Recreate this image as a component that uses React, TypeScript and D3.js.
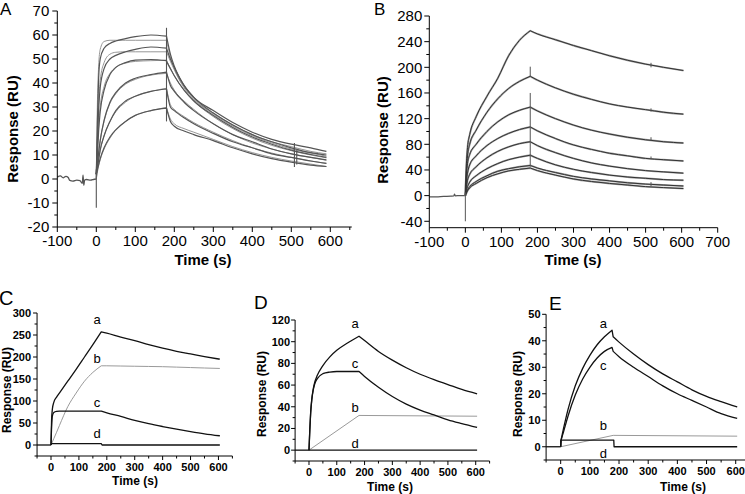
import React from "react";
import * as d3 from "d3";

const FONT = '"Liberation Sans", Arial, Helvetica, sans-serif';

// ---------------- Panel A data ----------------
const aTicksX = [-100, 0, 100, 200, 300, 400, 500, 600];
const aTicksY = [-20, -10, 0, 10, 20, 30, 40, 50, 60, 70];
const aBaseT = [-100, -92, -85, -78, -72, -68, -60, -50, -42, -36, -34, -32, -30, -25, -15, -5, 0];
const aBaseV = [0.8, 1.3, 0.5, 1.1, 0.6, -0.6, -0.9, -0.5, -0.7, -1.8, 1.6, -2.6, -0.4, -0.2, -0.5, -0.1, 0];
const aAssocT = [0, 3, 6, 10, 20, 35, 50, 75, 100, 140, 180];
const aDissT = [180, 190, 200, 225, 250, 300, 350, 400, 450, 500, 550, 590];
const aExpAssoc = [
  [2, 25, 42, 50, 54.5, 56.5, 57.5, 58.5, 59.3, 60, 59.5],
  [2, 16, 29, 38, 46, 50, 51.5, 53, 54, 55, 54.5],
  [2, 11, 20, 28, 37, 43.5, 46.5, 48.5, 49.5, 49.8, 49.3],
  [2, 6.5, 11, 16, 24.5, 32, 36, 40, 42, 43.5, 44.5],
  [2, 5, 8, 12, 18, 24, 28.5, 32.5, 34.5, 36.5, 37.5],
  [2, 4, 6, 8.5, 13, 17.5, 20.5, 24, 26.5, 28.5, 29.5],
];
const aFitAssoc = [
  [0, 33, 47, 54, 57.3, 57.8, 57.8, 57.8, 57.8, 57.8, 57.8],
  [0, 18, 32, 41, 48.5, 52, 52.8, 53, 53, 53, 53],
  [0, 12, 22, 30, 38.5, 44, 46.5, 48.3, 49, 49.3, 49.5],
  [0, 6, 11, 16, 24, 31.5, 35.5, 39.5, 41.5, 43.3, 44],
  [0, 4.5, 8, 12, 18, 24, 28, 32, 34.5, 36.5, 37.8],
  [0, 3, 5.5, 8, 12.5, 17, 20.5, 24, 26.5, 28.5, 29.8],
];
const aExpDiss = [
  [59.5, 52, 47, 39, 34, 28.5, 23.5, 19.5, 16.5, 14.5, 13, 11.5],
  [54.5, 50, 46.5, 39, 34, 27.5, 22.5, 18.5, 15.5, 13, 11, 10],
  [49, 46, 43, 37, 32.5, 26.5, 21.5, 17.5, 14.5, 12, 10.2, 9],
  [44.5, 39, 36.5, 32, 28.5, 23, 18.5, 15.5, 12.5, 10.5, 9, 8],
  [37.5, 30, 28.5, 25.5, 23, 19, 15.5, 13, 10.5, 9, 7.5, 6.5],
  [29.5, 24, 22, 20, 18.5, 16, 13, 10.5, 8.5, 7, 5.8, 5.2],
];
const aFitDiss = [
  [57.8, 51, 46, 38, 33, 27.5, 22.5, 18.5, 15.5, 13.5, 11.5, 10.5],
  [53, 49, 45.5, 38.5, 33.5, 27, 22, 18, 15, 12.5, 10.8, 9.5],
  [49.5, 46, 43, 37, 32.5, 26, 21, 17, 14, 11.8, 10, 8.8],
  [44, 40, 37, 32.5, 29, 23, 18.5, 15, 12.5, 10.5, 9, 7.8],
  [37.8, 31, 29, 26, 23.5, 19.5, 16, 13, 10.8, 9, 7.5, 6.5],
  [29.8, 25, 23, 21, 19.5, 16.5, 13.5, 11, 9, 7.5, 6.2, 5.2],
];
const aSpikeT = [0, 180, 508, 514];
const aSpikeLo = [-12, 24, 5, 6];
const aSpikeHi = [4, 63, 15, 12];

// ---------------- Panel B data ----------------
const bTicksX = [-100, 0, 100, 200, 300, 400, 500, 600, 700];
const bTicksY = [-40, 0, 40, 80, 120, 160, 200, 240, 280];
const bBaseT = [-100, -80, -60, -40, -32, -30, -28, -15, 0];
const bBaseV = [-2, -1.8, -1.2, -0.8, -0.5, 2.5, -0.3, 0, 0];
const bAssocT = [0, 3, 6, 12, 30, 60, 90, 120, 150, 180];
const bAssoc = [
  [0, 50, 75, 95, 123, 155, 183, 218, 242, 257],
  [0, 40, 62, 80, 102, 130, 151, 167, 178, 186],
  [0, 32, 50, 64, 80, 100, 115, 126, 133, 138],
  [0, 22, 35, 48, 62, 78, 89, 97, 103, 107],
  [0, 14, 24, 33, 45, 59, 69, 76, 81, 84],
  [0, 8, 14, 21, 31, 42, 50, 56, 60, 63],
  [0, 5, 9, 14, 22, 31, 38, 42, 45, 47],
  [0, 4, 7.5, 12, 19, 28, 34, 38.5, 41, 43],
];
const bDissT = [180, 200, 250, 300, 350, 400, 450, 500, 550, 605];
const bDiss = [
  [257, 252, 243, 234, 226, 218, 211, 205, 200, 195],
  [186, 180, 168, 158, 150, 143, 138, 134, 130, 127],
  [138, 132, 120, 110, 102, 96, 91, 87, 84, 82],
  [107, 101, 89, 79, 72, 66, 62, 58, 56, 54],
  [84, 78, 67, 58, 51, 46, 42, 39, 37, 35],
  [63, 58, 48, 41, 36, 32, 29, 27, 25, 24],
  [47, 43, 36, 30, 26, 23, 20, 18, 16.5, 15],
  [43, 39, 32, 26, 22, 19, 16.5, 14, 12.5, 11],
];
const bSpikeT = [0, 180, 180, 515, 515, 515, 515, 515];
const bSpikeLo = [-40, 186, 45, 200, 131, 86, 57, 15];
const bSpikeHi = [5, 201, 160, 207, 136, 91, 61, 21];

// ---------------- Panel C data ----------------
const cTicksX = [0, 100, 200, 300, 400, 500, 600];
const cTicksY = [0, 50, 100, 150, 200, 250, 300];
const cBaseT = [-50, 0];
const cBaseV = [0, 0];
const cAssocT = [0, 2, 5, 10, 20, 30, 60, 90, 120, 150, 180];
const cDissT = [180, 200, 250, 300, 350, 400, 450, 500, 550, 605];
const cA = [0, 55, 82, 97, 109, 118, 145, 172, 200, 228, 257];
const cADiss = [257, 254, 245, 237, 228, 220, 213, 207, 201, 195];
const cB = [0, 3, 7, 14.5, 29, 44, 87, 118, 145, 165, 180];
const cBDiss = [180, 180, 179.5, 179, 178.5, 178, 177, 176, 175, 174];
const cC = [0, 40, 66, 74, 76.5, 77, 77, 77, 77, 77, 77];
const cCDiss = [77, 73, 65, 56, 48.5, 42, 36, 30.5, 25.5, 21];
const cDT = [0, 2, 180];
const cD = [0, 3, 3];
const cDDissT = [180, 183, 605];
const cDDiss = [3, 0, 0];
const cLabelText = ["a", "b", "c", "d"];
const cLabelT = [165, 165, 165, 165];
const cLabelV = [285, 198, 96, 27];

// ---------------- Panel D data ----------------
const dTicksX = [0, 100, 200, 300, 400, 500, 600];
const dTicksY = [0, 20, 40, 60, 80, 100, 120];
const dBaseT = [-50, 0];
const dBaseV = [0, 0];
const dAssocT = [0, 3, 6, 10, 15, 20, 30, 50, 75, 100, 140, 180];
const dA = [0, 19, 35, 47, 56, 62, 69, 78, 86, 92, 99, 105];
const dC = [0, 19, 34, 46, 55, 60.5, 66, 70.5, 72, 72.5, 72.5, 72.5];
const dDissT = [180, 200, 250, 300, 350, 400, 450, 500, 550, 605];
const dADiss = [105, 101, 91, 83, 76, 70, 65, 60.5, 56, 52];
const dCDiss = [72.5, 68, 58, 49.5, 42.5, 37, 32.5, 28, 24.5, 21];
const dBT = [0, 180, 605];
const dB = [0, 32, 31.3];
const dDT = [0, 605];
const dD = [0, 0];
const dLabelText = ["a", "c", "b", "d"];
const dLabelT = [166, 166, 166, 166];
const dLabelV = [117, 80, 39.6, 6.5];

// ---------------- Panel E data ----------------
const eTicksX = [0, 100, 200, 300, 400, 500, 600];
const eTicksY = [0, 10, 20, 30, 40, 50];
const eBaseT = [-50, 0];
const eBaseV = [0, 0];
const eAssocT = [0, 1, 5, 10, 25, 50, 75, 100, 125, 150, 176];
const eA = [0, 2, 4.5, 7, 14, 23, 29.5, 34.5, 38.5, 41.5, 44];
const eC = [0, 2, 3.8, 5.7, 11.5, 19.5, 25.5, 30, 33.5, 36, 37.5];
const eDissT = [180, 200, 250, 300, 350, 400, 450, 500, 550, 605];
const eADiss = [41.5, 39.5, 35, 31, 27.5, 24.5, 21.5, 19, 17, 15];
const eCDiss = [36, 34, 30, 26.5, 23, 20, 17.5, 15, 12.5, 10.7];
const eBT = [0, 180, 605];
const eB = [0, 4.3, 4.0];
const eDT = [0, 0.5, 182, 183, 605];
const eD = [0, 2.5, 2.5, 0, 0];
const eLabelText = ["a", "c", "b", "d"];
const eLabelT = [146, 146, 146, 146];
const eLabelV = [46.5, 30.9, 8.2, -2.5];

// ---------------- Rendering ----------------
type Seg = { t: number[]; v: number[] };
type Series = { segs: Seg[]; color: string; width: number; linear?: boolean };
type PanelCfg = {
  xDomain: [number, number];
  xRange: [number, number];
  yDomain: [number, number];
  yRange: [number, number];
  xTicks: number[];
  yTicks: number[];
  xMinor: number;
  yMinor: number;
  tickFont: number;
  tickWeight: number | string;
  majorLen: number;
  minorLen: number;
  xLabelDy: number;
  yLabelDx: number;
  series: Series[];
  spikes?: { t: number[]; lo: number[]; hi: number[]; color: string; width: number };
  labels?: { text: string[]; t: number[]; v: number[]; size: number };
  title: { x: number; y: number; size: number };
  yTitle: { x: number; y: number; size: number };
  letter: { text: string; x: number; y: number; size: number };
};

function minorTicks(domain: [number, number], majors: number[], step: number) {
  const out: number[] = [];
  const start = majors[0] - step * 40;
  for (let i = 0; i < 200; i++) {
    const v = start + i * step;
    if (v < domain[0] - 1e-6 || v > domain[1] + 1e-6) continue;
    if (majors.some((m) => Math.abs(m - v) < 1e-6)) continue;
    out.push(v);
  }
  return out;
}

function Panel({ cfg }: { cfg: PanelCfg }) {
  const x = d3.scaleLinear().domain(cfg.xDomain).range(cfg.xRange);
  const y = d3.scaleLinear().domain(cfg.yDomain).range(cfg.yRange);
  const x0 = cfg.xRange[0];
  const y0 = cfg.yRange[0];

  const pathFor = (s: Series) => {
    const gen = d3
      .line<[number, number]>()
      .x((d) => x(d[0]))
      .y((d) => y(d[1]))
      .curve(s.linear ? d3.curveLinear : d3.curveMonotoneX);
    return s.segs
      .map((seg, i) => {
        const d = gen(seg.t.map((t, j) => [t, seg.v[j]] as [number, number])) || "";
        return i === 0 ? d : d.replace(/^M/, "L");
      })
      .join("");
  };

  const xMinor = minorTicks(cfg.xDomain, cfg.xTicks, cfg.xMinor);
  const yMinor = minorTicks(cfg.yDomain, cfg.yTicks, cfg.yMinor);

  return (
    <g>
      {cfg.series.map((s, i) => (
        <path key={i} d={pathFor(s)} fill="none" stroke={s.color} strokeWidth={s.width} strokeLinejoin="round" />
      ))}
      {cfg.spikes &&
        cfg.spikes.t.map((t, i) => (
          <line
            key={"sp" + i}
            x1={x(t)}
            x2={x(t)}
            y1={y(cfg.spikes!.lo[i])}
            y2={y(cfg.spikes!.hi[i])}
            stroke={cfg.spikes!.color}
            strokeWidth={cfg.spikes!.width}
          />
        ))}
      <line x1={x0} x2={x0} y1={y0} y2={cfg.yRange[1]} stroke="#000" strokeWidth={1} />
      <line x1={x0} x2={cfg.xRange[1]} y1={y0} y2={y0} stroke="#000" strokeWidth={1} />
      {cfg.xTicks.map((t) => (
        <g key={"xt" + t}>
          <line x1={x(t)} x2={x(t)} y1={y0} y2={y0 + cfg.majorLen} stroke="#000" strokeWidth={1} />
          <text
            x={x(t)}
            y={y0 + cfg.xLabelDy}
            textAnchor="middle"
            fontFamily={FONT}
            fontSize={cfg.tickFont}
            fontWeight={cfg.tickWeight}
          >
            {String(t)}
          </text>
        </g>
      ))}
      {xMinor.map((t) => (
        <line key={"xm" + t} x1={x(t)} x2={x(t)} y1={y0} y2={y0 + cfg.minorLen} stroke="#000" strokeWidth={1} />
      ))}
      {cfg.yTicks.map((v) => (
        <g key={"yt" + v}>
          <line x1={x0 - cfg.majorLen} x2={x0} y1={y(v)} y2={y(v)} stroke="#000" strokeWidth={1} />
          <text
            x={x0 - cfg.yLabelDx}
            y={y(v)}
            dy="0.36em"
            textAnchor="end"
            fontFamily={FONT}
            fontSize={cfg.tickFont}
            fontWeight={cfg.tickWeight}
          >
            {String(v)}
          </text>
        </g>
      ))}
      {yMinor.map((v) => (
        <line key={"ym" + v} x1={x0 - cfg.minorLen} x2={x0} y1={y(v)} y2={y(v)} stroke="#000" strokeWidth={1} />
      ))}
      {cfg.labels &&
        cfg.labels.text.map((s, i) => (
          <text
            key={"lb" + i}
            x={x(cfg.labels!.t[i])}
            y={y(cfg.labels!.v[i])}
            dy="0.36em"
            textAnchor="middle"
            fontFamily={FONT}
            fontSize={cfg.labels!.size}
          >
            {s}
          </text>
        ))}
      <text
        x={cfg.title.x}
        y={cfg.title.y}
        textAnchor="middle"
        fontFamily={FONT}
        fontSize={cfg.title.size}
        fontWeight="bold"
      >
        Time (s)
      </text>
      <text
        transform={`translate(${cfg.yTitle.x},${cfg.yTitle.y}) rotate(-90)`}
        textAnchor="middle"
        dy="0.36em"
        fontFamily={FONT}
        fontSize={cfg.yTitle.size}
        fontWeight="bold"
      >
        Response (RU)
      </text>
      <text x={cfg.letter.x} y={cfg.letter.y} fontFamily={FONT} fontSize={cfg.letter.size}>
        {cfg.letter.text}
      </text>
    </g>
  );
}

const EXP = "#555555";
const FIT = "#8a8a8a";

const panelA: PanelCfg = {
  xDomain: [-100, 655],
  xRange: [57.3, 351.75],
  yDomain: [-20, 70],
  yRange: [227, 11],
  xTicks: aTicksX,
  yTicks: aTicksY,
  xMinor: 50,
  yMinor: 5,
  tickFont: 15,
  tickWeight: "normal",
  majorLen: 5,
  minorLen: 3,
  xLabelDy: 18.5,
  yLabelDx: 8,
  series: [
    { segs: [{ t: aBaseT, v: aBaseV }], color: EXP, width: 1.3 },
    ...aFitAssoc.map((v, i) => ({
      segs: [
        { t: aAssocT, v },
        { t: aDissT, v: aFitDiss[i] },
      ],
      color: FIT,
      width: 0.9,
    })),
    ...aExpAssoc.map((v, i) => ({
      segs: [
        { t: aAssocT, v },
        { t: aDissT, v: aExpDiss[i] },
      ],
      color: EXP,
      width: 1.2,
    })),
  ],
  spikes: { t: aSpikeT, lo: aSpikeLo, hi: aSpikeHi, color: EXP, width: 1.1 },
  title: { x: 203, y: 265, size: 15 },
  yTitle: { x: 12.5, y: 129, size: 15 },
  letter: { text: "A", x: 0, y: 15, size: 17 },
};

const panelB: PanelCfg = {
  xDomain: [-100, 700],
  xRange: [429.3, 717.7],
  yDomain: [-50, 280],
  yRange: [227.7, 16],
  xTicks: bTicksX,
  yTicks: bTicksY,
  xMinor: 50,
  yMinor: 20,
  tickFont: 15,
  tickWeight: "normal",
  majorLen: 5,
  minorLen: 3,
  xLabelDy: 19,
  yLabelDx: 7,
  series: [
    { segs: [{ t: bBaseT, v: bBaseV }], color: "#555", width: 1.2 },
    ...bAssoc.map((v, i) => ({
      segs: [
        { t: bAssocT, v },
        { t: bDissT, v: bDiss[i] },
      ],
      color: "#a0a0a0",
      width: 1.9,
    })),
    ...bAssoc.map((v, i) => ({
      segs: [
        { t: bAssocT, v },
        { t: bDissT, v: bDiss[i] },
      ],
      color: "#333333",
      width: 1.0,
    })),
  ],
  spikes: { t: bSpikeT, lo: bSpikeLo, hi: bSpikeHi, color: "#555", width: 1.0 },
  title: { x: 573, y: 265, size: 15 },
  yTitle: { x: 383, y: 130, size: 15 },
  letter: { text: "B", x: 374, y: 15, size: 17 },
};

const BLK = "#111";
const GRY = "#9a9a9a";

const panelC: PanelCfg = {
  xDomain: [-50, 650],
  xRange: [37.05, 232.4],
  yDomain: [-25, 300],
  yRange: [456, 313],
  xTicks: cTicksX,
  yTicks: cTicksY,
  xMinor: 50,
  yMinor: 25,
  tickFont: 11,
  tickWeight: "bold",
  majorLen: 4,
  minorLen: 2.5,
  xLabelDy: 14.5,
  yLabelDx: 6,
  series: [
    { segs: [{ t: cBaseT, v: cBaseV }], color: BLK, width: 1.3, linear: true },
    { segs: [{ t: cAssocT, v: cB }, { t: cDissT, v: cBDiss }], color: GRY, width: 1 },
    { segs: [{ t: cDT, v: cD }, { t: cDDissT, v: cDDiss }], color: BLK, width: 1.3, linear: true },
    { segs: [{ t: cAssocT, v: cC }, { t: cDissT, v: cCDiss }], color: BLK, width: 1.3 },
    { segs: [{ t: cAssocT, v: cA }, { t: cDissT, v: cADiss }], color: BLK, width: 1.3 },
  ],
  labels: { text: cLabelText, t: cLabelT, v: cLabelV, size: 13 },
  title: { x: 135, y: 485, size: 12 },
  yTitle: { x: 7, y: 390, size: 12 },
  letter: { text: "C", x: -1, y: 305, size: 20 },
};

const panelD: PanelCfg = {
  xDomain: [-50, 650],
  xRange: [295.1, 489.6],
  yDomain: [-10, 120],
  yRange: [461, 320],
  xTicks: dTicksX,
  yTicks: dTicksY,
  xMinor: 50,
  yMinor: 10,
  tickFont: 11,
  tickWeight: "bold",
  majorLen: 4,
  minorLen: 2.5,
  xLabelDy: 14.5,
  yLabelDx: 5,
  series: [
    { segs: [{ t: dBaseT, v: dBaseV }], color: BLK, width: 1.3, linear: true },
    { segs: [{ t: dBT, v: dB }], color: GRY, width: 1, linear: true },
    { segs: [{ t: dDT, v: dD }], color: BLK, width: 1.3, linear: true },
    { segs: [{ t: dAssocT, v: dC }, { t: dDissT, v: dCDiss }], color: BLK, width: 1.3 },
    { segs: [{ t: dAssocT, v: dA }, { t: dDissT, v: dADiss }], color: BLK, width: 1.3 },
  ],
  labels: { text: dLabelText, t: dLabelT, v: dLabelV, size: 13 },
  title: { x: 390, y: 491, size: 12 },
  yTitle: { x: 262, y: 394, size: 12 },
  letter: { text: "D", x: 254, y: 309, size: 19 },
};

const panelE: PanelCfg = {
  xDomain: [-50, 650],
  xRange: [546.1, 750.3],
  yDomain: [-5, 50],
  yRange: [460, 314.3],
  xTicks: eTicksX,
  yTicks: eTicksY,
  xMinor: 50,
  yMinor: 5,
  tickFont: 11,
  tickWeight: "bold",
  majorLen: 4,
  minorLen: 2.5,
  xLabelDy: 14.5,
  yLabelDx: 5.5,
  series: [
    { segs: [{ t: eBaseT, v: eBaseV }], color: BLK, width: 1.3, linear: true },
    { segs: [{ t: eBT, v: eB }], color: GRY, width: 1, linear: true },
    { segs: [{ t: eDT, v: eD }], color: BLK, width: 1.3, linear: true },
    { segs: [{ t: eAssocT, v: eC }, { t: eDissT, v: eCDiss }], color: BLK, width: 1.3 },
    { segs: [{ t: eAssocT, v: eA }, { t: eDissT, v: eADiss }], color: BLK, width: 1.3 },
  ],
  labels: { text: eLabelText, t: eLabelT, v: eLabelV, size: 13 },
  title: { x: 683, y: 491, size: 12 },
  yTitle: { x: 518, y: 394, size: 12 },
  letter: { text: "E", x: 549, y: 310, size: 19 },
};

export default function App() {
  return (
    <svg
      width={745}
      height={494}
      viewBox="0 0 745 494"
      style={{ position: "absolute", left: 0, top: 0, background: "#fff", display: "block" }}
    >
      <rect x={0} y={0} width={745} height={494} fill="#fff" />
      <Panel cfg={panelA} />
      <Panel cfg={panelB} />
      <Panel cfg={panelC} />
      <Panel cfg={panelD} />
      <Panel cfg={panelE} />
    </svg>
  );
}
